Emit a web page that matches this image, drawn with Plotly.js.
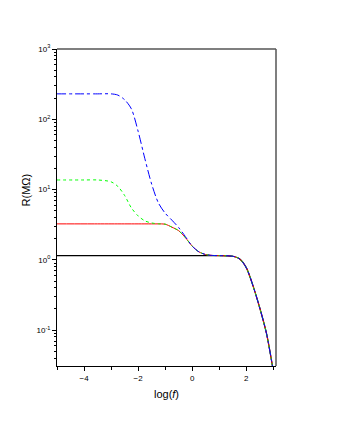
<!DOCTYPE html>
<html>
<head>
<meta charset="utf-8">
<script src="https://cdn.plot.ly/plotly-3.0.1.min.js"></script>
<style>
  html, body { margin: 0; padding: 0; background: #fff; }
  #chart { width: 340px; height: 440px; }
</style>
</head>
<body>
<div id="chart"></div>
<script>
// log(f) sample positions, shared by all curves
const logf = [-5, -4, -3.5, -3, -2.75, -2.5, -2.25, -2, -1.75, -1.5, -1.25, -1,
  -0.75, -0.5, -0.25, 0, 0.25, 0.5, 0.75, 1, 1.25, 1.5, 1.75, 2, 2.25, 2.5, 2.75, 3];

// R in MOhm
const rBlack = [1.15, 1.15, 1.15, 1.15, 1.15, 1.15, 1.15, 1.15, 1.15, 1.15, 1.15, 1.15,
  1.15, 1.15, 1.15, 1.15, 1.15, 1.15, 1.15, 1.148, 1.143, 1.127, 1.035, 0.776, 0.427, 0.2065, 0.0891, 0.0263];
const rRed = [3.25, 3.25, 3.25, 3.25, 3.25, 3.25, 3.25, 3.25, 3.25, 3.25, 3.25, 3.22,
  2.92, 2.60, 2.07, 1.57, 1.30, 1.19, 1.156, 1.148, 1.143, 1.127, 1.035, 0.776, 0.427, 0.2065, 0.0891, 0.0263];
const rGreen = [13.7, 13.7, 13.7, 12.9, 11.1, 8.26, 5.5, 4.22, 3.59, 3.35, 3.26, 3.22,
  2.92, 2.60, 2.07, 1.57, 1.30, 1.19, 1.156, 1.148, 1.143, 1.127, 1.035, 0.776, 0.427, 0.2065, 0.0891, 0.0263];
const rBlue = [230, 230, 230, 230, 221, 190, 141, 67.6, 27.5, 12.0, 6.46, 4.62,
  3.67, 2.88, 2.14, 1.57, 1.30, 1.19, 1.156, 1.148, 1.143, 1.127, 1.035, 0.776, 0.427, 0.2065, 0.0891, 0.0263];

const xTicks = [-4, -2, 0, 2];
const yTicks = [0.1, 1, 10, 100, 1000];
const yTickText = ["10<sup>-1</sup>", "10<sup>0</sup>", "10<sup>1</sup>", "10<sup>2</sup>", "10<sup>3</sup>"];

const font = "Liberation Sans, Arial, sans-serif";

function curve(y, color, dash, width) {
  return {
    x: logf, y: y, mode: "lines", showlegend: false, hoverinfo: "skip",
    line: {color: color, width: width, dash: dash, shape: "spline", smoothing: 0.8}
  };
}

const traces = [
  curve(rBlack, "#000000", "solid", 1.2),
  curve(rRed, "#ff0000", "solid", 1),
  curve(rGreen, "#00ff00", "dot", 1),
  curve(rBlue, "#0000ff", "dashdot", 1)
];

const layout = {
  width: 340, height: 440,
  margin: {l: 57, r: 64, t: 49, b: 74},
  paper_bgcolor: "#fff", plot_bgcolor: "#fff",
  font: {family: font, size: 8, color: "#000"},
  showlegend: false,
  xaxis: {
    range: [-5, 3.1],
    tickvals: xTicks,
    ticks: "outside", ticklen: 4, tickwidth: 1, tickcolor: "#000",
    minor: {dtick: 1, tick0: 1, ticks: "outside", ticklen: 3, tickcolor: "#000", showgrid: false},
    showgrid: false, zeroline: false,
    showline: true, linecolor: "#000", linewidth: 1,
    tickfont: {size: 8, color: "#000"},
    title: {text: "log(<i>f</i>)", font: {size: 11}, standoff: 8}
  },
  yaxis: {
    type: "log",
    range: [-1.51, 3],
    tickvals: yTicks,
    ticktext: yTickText,
    ticks: "outside", ticklen: 4, tickwidth: 1, tickcolor: "#000",
    minor: {dtick: "D1", ticks: "outside", ticklen: 2, tickcolor: "#000", showgrid: false},
    showgrid: false, zeroline: false,
    showline: true, linecolor: "#000", linewidth: 1,
    tickfont: {size: 8, color: "#000"}
  },
  shapes: [
    {type: "line", xref: "paper", yref: "paper", x0: 0, x1: 1, y0: 1, y1: 1,
     line: {color: "#555", width: 1.5}},
    {type: "line", xref: "paper", yref: "paper", x0: 1, x1: 1, y0: 0, y1: 1,
     line: {color: "#555", width: 1.5}}
  ],
  annotations: [{
    text: "R(MΩ)", xref: "paper", yref: "paper",
    x: -0.14, y: 0.555, xanchor: "center", yanchor: "middle",
    textangle: -90, showarrow: false, font: {size: 11}
  }]
};

Plotly.newPlot("chart", traces, layout, {staticPlot: true, displayModeBar: false});
</script>
</body>
</html>
